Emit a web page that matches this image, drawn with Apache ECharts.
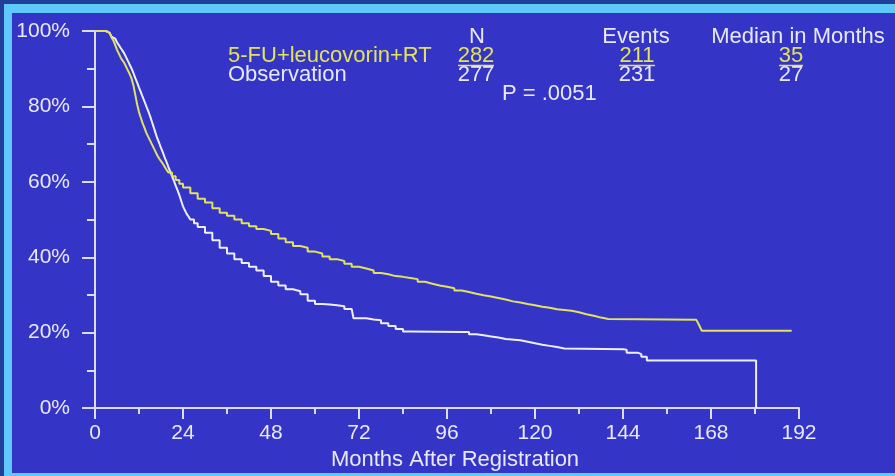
<!DOCTYPE html>
<html><head><meta charset="utf-8">
<script src="https://cdn.jsdelivr.net/npm/echarts@6/dist/echarts.min.js"></script>
<style>
html,body{margin:0;padding:0;background:#22409a;overflow:hidden;}
#frame{position:absolute;left:4px;top:4px;width:891px;height:472px;background:#5fc9fb;}
#inner{position:absolute;left:12px;top:13px;width:883px;height:460px;background:#3434c6;}
#chart{position:absolute;left:0;top:0;width:895px;height:476px;}
</style></head><body>
<div id="frame"></div><div id="inner"></div><div id="chart"></div>
<script>
// 5-FU+leucovorin+RT arm (Kaplan-Meier, % surviving)
const treatMonths = [0,2,3,4,4.5,5,5.5,6,6.5,7,7.5,8,8.5,9,9.5,10,10.5,11,11.5,12,12.5,13,13.5,14,14.5,15,15.5,16,16.5,17,17.5,18,18.5,19,19.5,20,21,22,23,24,26,28,30,32,34,36,38,40,42,44,46,48,50,52,54,56,58,60,62,64,66,68,70,72,74,76,78,80,82,84,86,88,90,92,94,96,98,100,102,104,106,108,110,112,114,116,118,120,122,124,126,128,130,132,134,136,138,140,164,164.5,165,165.5,190];
const treatSurvival = [100,100,99.5,99,98.3,97.5,96.3,95,94,93,92.2,91.5,90.5,89.5,88.5,87.3,85.5,83,80.5,78.5,77,75.5,74.3,73,72,71,70,69,68,67,66.2,65.5,64.8,64,63.2,62.5,61.5,60.5,59.5,58.5,57,55.5,54.5,53,51.8,51,50,49,48.2,47.5,47,46.2,45,44,43,42.5,41.5,41,40.2,39.5,39,38.3,37.5,37,36.5,35.8,35.5,35,34.8,34.5,34.2,33.5,33,32.5,32.2,31.8,31.2,30.8,30.3,29.9,29.6,29.2,28.8,28.3,28,27.6,27.3,26.9,26.6,26.2,26,25.8,25.4,24.9,24.5,24,23.6,23.4,23.4,22.5,21.5,20.5,20.5];
// Observation arm
const obsMonths = [0,2,3,4,4.5,5,5.5,6,6.5,7,7.5,8,8.5,9,9.5,10,10.5,11,11.5,12,12.5,13,13.5,14,14.5,15,15.5,16,16.5,17,17.5,18,18.5,19,19.5,20,20.5,21,21.5,22,22.5,23,23.5,24,24.5,25,25.5,26,27,28,30,32,34,36,38,40,42,44,46,48,50,52,54,56,58,60,62,64,66,68,70,70.5,74,76,78,80,82,84,86,100,102,104,106,108,110,112,116,118,120,122,124,126,128,144,145,148,149,150.5,180.3,180.3];
const obsSurvival = [100,100,99.5,99,98.5,98,97.5,97,96.3,95.5,94.8,94,93,92,91,90,88.8,87.5,86.3,85,83.8,82.5,81.3,80,78.8,77.5,76,74.5,73,71.5,70.3,69,67.8,66.5,65.3,64,62.8,61.5,60.3,59,57.8,56.5,55,53.5,52.5,51.5,50.8,50,49,48,46.5,44.5,42.5,41,39.5,38.5,37.5,36.5,35,33.5,32.5,31.5,31,30.2,28.5,27.6,27.5,27.3,27,26.3,26,23.8,23.5,23.3,22.5,21.8,21,20.3,20.2,20.2,19.6,19.3,19,18.7,18.3,18,17.6,17.2,16.8,16.5,16.2,15.8,15.6,15.5,14.7,14.3,13.6,12.6,12.6,0];

const groupNames = ['5-FU+leucovorin+RT', 'Observation'];
const groupN = ['282', '277'];
const groupEvents = ['211', '231'];
const groupMedian = ['35', '27'];
const columnHeaders = ['N', 'Events', 'Median in Months'];
const pValueText = 'P = .0051';
const xAxisTitle = 'Months After Registration';

const FONT = '"Liberation Sans", Arial, Helvetica, sans-serif';
const WHITE = '#e8e8f8';
const YELLOW = '#e2e25e';
const AXIS = '#dcdcf0';

const chart = echarts.init(document.getElementById('chart'), null, {renderer: 'canvas'});

function txt(x, y, text, fill, align) {
  return {type: 'text', z: 10, style: {x: x, y: y, text: text, fill: fill, align: align, verticalAlign: 'middle', font: '22px ' + FONT}};
}
function uline(x1, x2, y) {
  return {type: 'line', z: 10, shape: {x1: x1, y1: y, x2: x2, y2: y}, style: {stroke: YELLOW, lineWidth: 1.5}};
}
const colX = [476, 637, 791];
const rowY = [56, 75];
const graphics = [
  txt(477, 37, columnHeaders[0], WHITE, 'center'),
  txt(636, 37, columnHeaders[1], WHITE, 'center'),
  txt(798, 37, columnHeaders[2], WHITE, 'center'),
  txt(228, rowY[0], groupNames[0], YELLOW, 'left'),
  txt(228, rowY[1], groupNames[1], WHITE, 'left'),
  txt(colX[0], rowY[0], groupN[0], YELLOW, 'center'),
  txt(colX[1], rowY[0], groupEvents[0], YELLOW, 'center'),
  txt(colX[2], rowY[0], groupMedian[0], YELLOW, 'center'),
  txt(colX[0], rowY[1], groupN[1], WHITE, 'center'),
  txt(colX[1], rowY[1], groupEvents[1], WHITE, 'center'),
  txt(colX[2], rowY[1], groupMedian[1], WHITE, 'center'),
  txt(502, 94, pValueText, WHITE, 'left'),
  uline(458, 494, 65.5),
  uline(619, 655, 65.5),
  uline(779, 803, 65.5)
];

chart.setOption({
  animation: false,
  backgroundColor: 'transparent',
  textStyle: {fontFamily: FONT},
  grid: {left: 95, right: 96, top: 31, bottom: 64, containLabel: false},
  xAxis: {
    type: 'value', min: 0, max: 192, interval: 24,
    name: xAxisTitle, nameLocation: 'middle', nameGap: 29,
    nameTextStyle: {color: WHITE, fontSize: 22, fontFamily: FONT, padding: [0, 0, 0, 16]},
    axisLine: {show: true, onZero: false, lineStyle: {color: AXIS, width: 2}},
    axisTick: {show: true, length: 11, lineStyle: {color: AXIS, width: 2}},
    minorTick: {show: true, splitNumber: 2, length: 6, lineStyle: {color: AXIS, width: 2}},
    splitLine: {show: false},
    axisLabel: {color: WHITE, fontSize: 21, fontFamily: FONT, margin: 15}
  },
  yAxis: {
    type: 'value', min: 0, max: 100, interval: 20,
    axisLine: {show: true, onZero: false, lineStyle: {color: AXIS, width: 2}},
    axisTick: {show: true, length: 13, lineStyle: {color: AXIS, width: 2}},
    minorTick: {show: true, splitNumber: 2, length: 8, lineStyle: {color: AXIS, width: 2}},
    splitLine: {show: false},
    axisLabel: {color: WHITE, fontSize: 21, fontFamily: FONT, margin: 25, formatter: '{value}%'}
  },
  graphic: graphics,
  series: [
    {
      name: groupNames[1], type: 'line', step: 'end', showSymbol: false, symbol: 'none',
      lineStyle: {color: '#eeeeff', width: 2}, z: 3,
      data: obsMonths.map((m, i) => [m, obsSurvival[i]])
    },
    {
      name: groupNames[0], type: 'line', step: 'end', showSymbol: false, symbol: 'none',
      lineStyle: {color: YELLOW, width: 2}, z: 4,
      data: treatMonths.map((m, i) => [m, treatSurvival[i]])
    }
  ]
});
</script>
</body></html>
